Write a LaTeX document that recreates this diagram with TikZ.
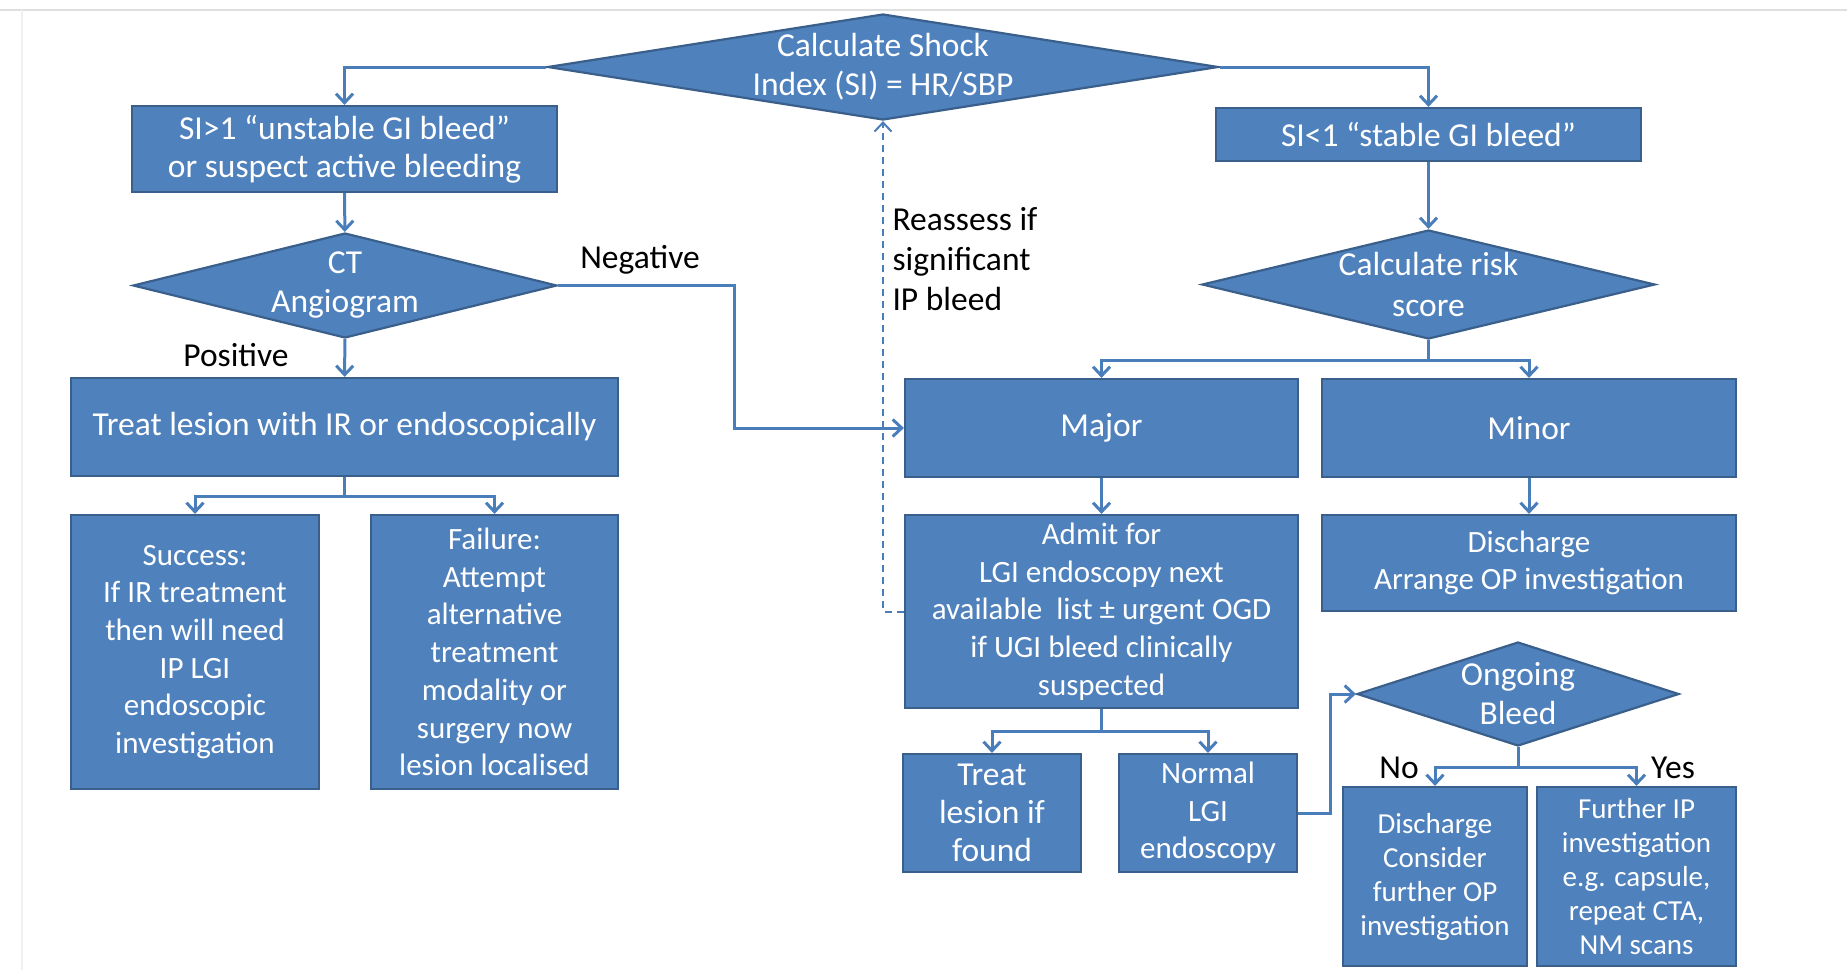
\documentclass[tikz,border=0pt]{standalone}
\usepackage{fontspec}
\setmainfont{Carlito}
\usetikzlibrary{arrows.meta,shapes.geometric}
\definecolor{boxblue}{HTML}{4F81BD}
\definecolor{boxedge}{HTML}{3A5F8B}
\definecolor{linkblue}{HTML}{4A7EBB}

\begin{document}
\begin{tikzpicture}[
    x=1pt, y=-1pt,
    every node/.style={font=\fontsize{33.5}{37.7}\selectfont},
    box/.style={draw=boxedge, line width=2.2pt, fill=boxblue, text=white, align=center, inner sep=2pt},
    dia/.style={draw=boxedge, line width=2.2pt, fill=boxblue, diamond, inner sep=0pt},
    dtext/.style={text=white, align=center, font=\fontsize{33.5}{39}\selectfont},
    mid/.style={font=\fontsize{31}{37.7}\selectfont},
    small/.style={font=\fontsize{29}{34}\selectfont},
    link/.style={draw=linkblue, line width=3pt, -{Straight Barb[length=9pt,width=17pt]}},
    back/.style={link, line width=2pt, dash pattern=on 7pt off 5pt},
    tag/.style={text=black}
  ]
  \useasboundingbox (0,0) rectangle (1847,970);
  \draw[gray!25, line width=1.5pt] (0,10) -- (1847,10);
  \draw[gray!12, line width=1.5pt] (22,10) -- (22,970);

  % decisions
  \node[dia, minimum width=671pt, minimum height=106pt, label={[dtext]center:Calculate Shock\\Index (SI) = HR/SBP}] (si) at (883,67) {};
  \node[dia, minimum width=424pt, minimum height=105pt, label={[dtext]center:CT\\Angiogram}] (cta) at (345,285.5) {};
  \node[dia, minimum width=453pt, minimum height=109pt, label={[dtext, font=\fontsize{33.5}{41}\selectfont]center:Calculate risk\\score}] (risk) at (1428.5,284.5) {};
  \node[dia, minimum width=322pt, minimum height=104pt, label={[dtext]center:Ongoing\\Bleed}] (ong) at (1518,694) {};

  % left branch
  \node[box, minimum width=425pt, minimum height=86pt] (unst) at (344.5,149) {SI>1 “unstable GI bleed”\\or suspect active bleeding};
  \node[box, minimum width=547pt, minimum height=98pt] (treat) at (344.5,427) {Treat lesion with IR or endoscopically};
  \node[box, mid, minimum width=248pt, minimum height=274pt] (succ) at (195,652) {Success:\\If IR treatment\\then will need\\IP LGI\\endoscopic\\investigation};
  \node[box, mid, minimum width=247pt, minimum height=274pt] (fail) at (494.5,652) {Failure:\\Attempt\\alternative\\treatment\\modality or\\surgery now\\lesion localised};

  % right branch
  \node[box, minimum width=425pt, minimum height=53pt] (stab) at (1428.5,134.5) {SI<1 “stable GI bleed”};
  \node[box, minimum width=393pt, minimum height=98pt] (major) at (1101.5,428) {Major};
  \node[box, minimum width=414pt, minimum height=98pt] (minor) at (1529,428) {Minor};
  \node[box, mid, minimum width=393pt, minimum height=193pt] (admit) at (1101.5,611.5) {Admit for\\LGI endoscopy next\\available~ list ± urgent OGD\\if UGI bleed clinically\\suspected};
  \node[box, mid, minimum width=414pt, minimum height=96pt] (disch) at (1529,563) {Discharge\\Arrange OP investigation};
  \node[box, minimum width=178pt, minimum height=118pt] (trtf) at (992,813) {Treat\\lesion if\\found};
  \node[box, mid, minimum width=178pt, minimum height=118pt] (norm) at (1208,813) {Normal\\LGI\\endoscopy};
  \node[box, small, minimum width=184pt, minimum height=179pt] (dcons) at (1435,876.5) {Discharge\\Consider\\further OP\\investigation};
  \node[box, small, minimum width=199pt, minimum height=179pt] (furth) at (1636.5,876.5) {Further IP\\investigation\\e.g. capsule,\\repeat CTA,\\NM scans};

  % labels
  \node[tag] (neg) at (640,260) {Negative};
  \node[tag] (pos) at (236,355) {Positive};
  \node[tag, anchor=west, align=left, font=\fontsize{33.5}{40}\selectfont] (reas) at (889,259) {Reassess if\\significant\\IP bleed};
  \node[tag] (no) at (1399,768) {No};
  \node[tag] (yes) at (1673,768) {Yes};

  % connectors
  \draw[link] (si.west) -| (unst.north);
  \draw[link] (si.east) -| (stab.north);
  \draw[link] (unst) -- (cta);
  \draw[link] (cta) -- (treat);
  \draw[link] (cta.east) -- ++(176,0) |- (major.west);
  \draw[link] (treat.south) -- ++(0,19) -| (succ.north);
  \draw[link] (treat.south) -- ++(0,19) -| (fail.north);
  \draw[link] (stab) -- (risk);
  \draw[link] (risk.south) -- ++(0,20) -| (major.north);
  \draw[link] (risk.south) -- ++(0,20) -| (minor.north);
  \draw[link] (major) -- (admit);
  \draw[link] (minor) -- (disch);
  \draw[back] (admit.west) -| (si.south);
  \draw[link] (admit.south) -- ++(0,22) -| (trtf.north);
  \draw[link] (admit.south) -- ++(0,22) -| (norm.north);
  \draw[link] (norm.east) -- ++(32,0) |- (ong.west);
  \draw[link] (ong.south) -- ++(0,20) -| (dcons.north);
  \draw[link] (ong.south) -- ++(0,20) -| (furth.north);
\end{tikzpicture}
\end{document}
